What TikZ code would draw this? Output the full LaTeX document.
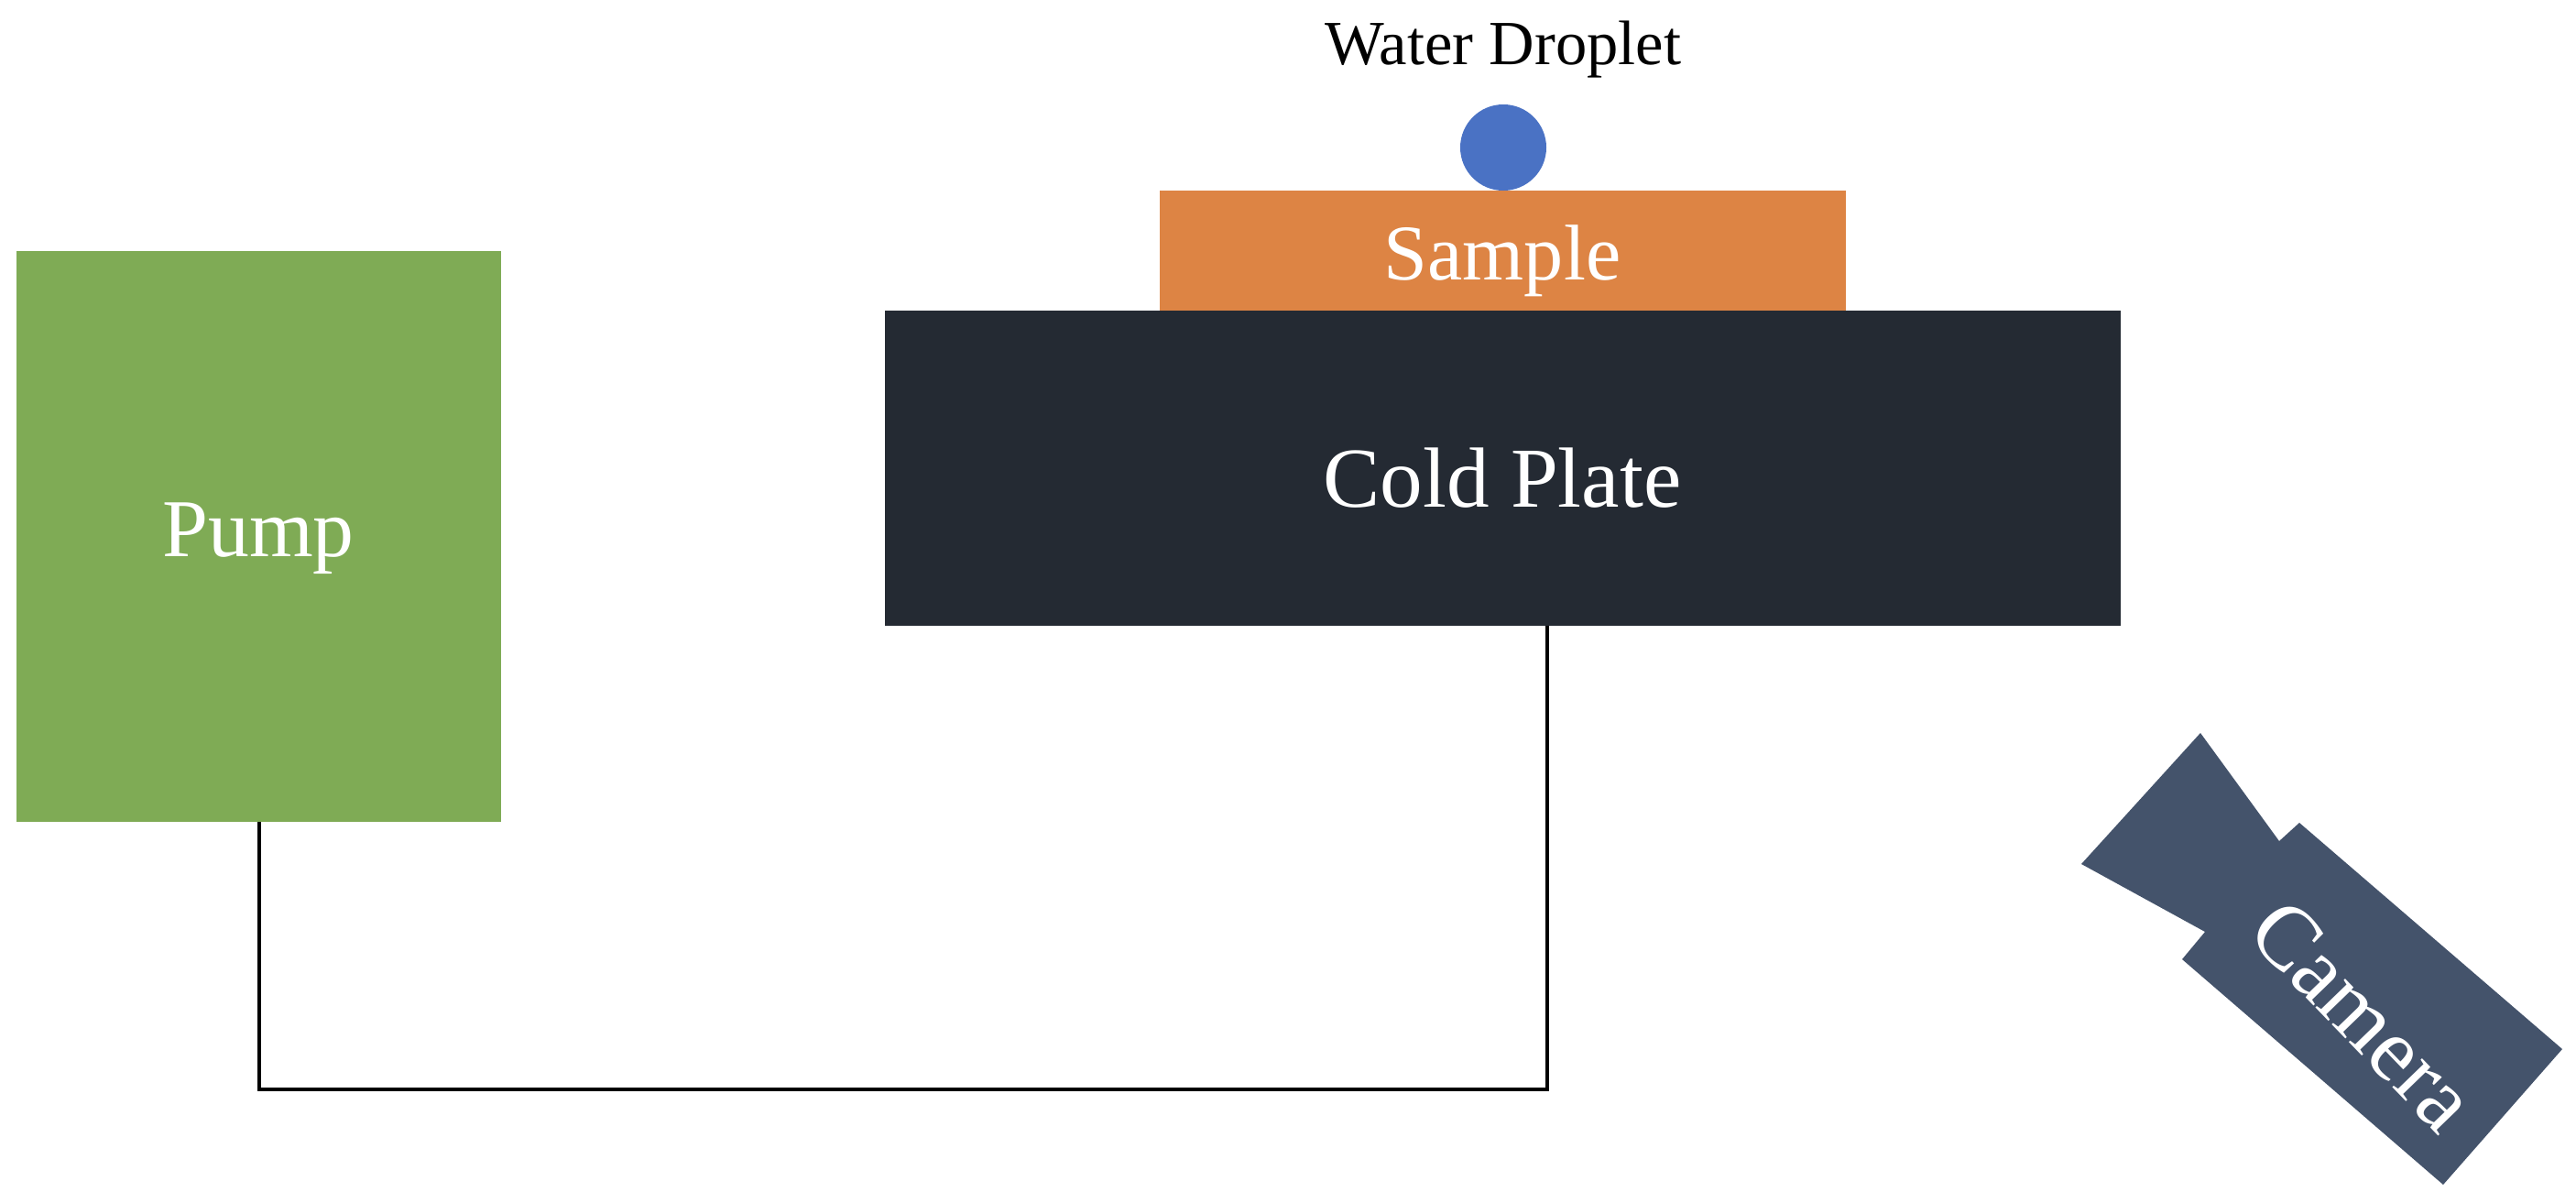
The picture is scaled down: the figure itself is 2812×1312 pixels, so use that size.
\documentclass[tikz,border=0pt]{standalone}
\usepackage{fontspec}
\setmainfont{Liberation Serif}
\definecolor{pumpg}{HTML}{7FAB55}
\definecolor{plate}{HTML}{242A33}
\definecolor{samp}{HTML}{DD8444}
\definecolor{drop}{HTML}{4A72C4}
\definecolor{cam}{HTML}{44536B}
\begin{document}
\begin{tikzpicture}[x=0.01cm,y=-0.01cm,
  blk/.style={draw=none,inner sep=0pt,text=white},
  pipe/.style={line width=1.2pt,black}]
\useasboundingbox (0,0) rectangle (2812,1312);
\path[fill=pumpg] (18,274) rectangle (547,897);
\node[blk] (pump) at (282,588) {\fontsize{25.5}{30}\selectfont Pump};
\path[fill=plate] (966,339) rectangle (2315,683);
\node[blk] (plate) at (1640,522) {\fontsize{26.5}{31}\selectfont Cold Plate};
\path[fill=samp] (1266,208) rectangle (2015,339);
\node[blk] (sample) at (1640,285) {\fontsize{24.5}{29}\selectfont Sample};
\fill[drop] (1641,161) circle (47);
\node[inner sep=0pt] (drop) at (1641,54) {\fontsize{19.5}{23}\selectfont Water Droplet};
\coordinate (pb) at (283,897);
\coordinate (cb) at (1689,683);
\draw[pipe] (pb) |- (1689,1189) -- (cb);
\fill[cam] (2272,943) -- (2402,800) -- (2488,918) -- (2510,898)
  -- (2797,1145) -- (2667,1293) -- (2382,1047) -- (2407,1017) -- cycle;
\node[blk,rotate=-46] (camera) at (2580,1108) {\fontsize{28}{33}\selectfont Camera};
\end{tikzpicture}
\end{document}
